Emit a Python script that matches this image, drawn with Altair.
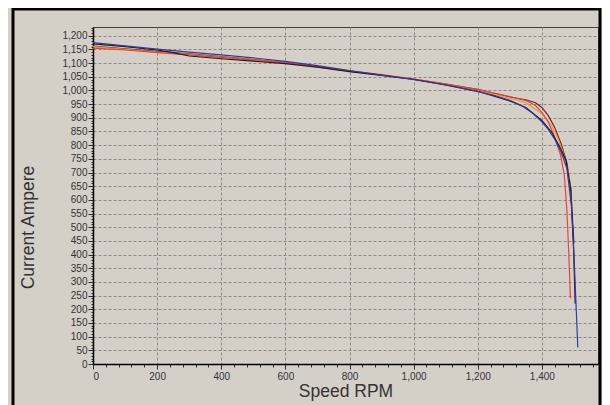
import altair as alt
import pandas as pd

# ---- data ----
series_names = ["Run A", "Run B", "Run C", "Run D", "Run E"]
series_colors = ["#7a2418", "#e8963e", "#e8453a", "#1c1c1c", "#3438a0"]

speed_a = [0, 100, 200, 300, 400, 600, 800, 1000, 1200, 1300, 1350, 1380, 1400, 1420, 1440, 1460, 1478, 1490, 1500]
cur_a = [1162, 1152, 1143, 1134, 1124, 1102, 1071, 1042, 1004, 976, 966, 955, 938, 908, 865, 805, 735, 640, 440]

speed_b = [0, 100, 200, 300, 400, 600, 800, 1000, 1200, 1300, 1350, 1400, 1430, 1450, 1468, 1485, 1495]
cur_b = [1160, 1150, 1140, 1132, 1122, 1101, 1071, 1041, 1001, 972, 955, 915, 872, 825, 765, 690, 560]

speed_c = [0, 100, 200, 300, 400, 500, 600, 700, 800, 900, 1000, 1100, 1200, 1300, 1350, 1380, 1400, 1420, 1440, 1458, 1470, 1478, 1484, 1489]
cur_c = [1155, 1148, 1138, 1130, 1121, 1112, 1102, 1088, 1072, 1058, 1042, 1024, 1003, 978, 963, 945, 920, 885, 830, 765, 690, 560, 400, 240]

speed_d = [0, 100, 200, 250, 300, 400, 500, 600, 700, 800, 900, 1000, 1100, 1200, 1300, 1350, 1400, 1430, 1455, 1475, 1490, 1498, 1504]
cur_d = [1170, 1160, 1148, 1138, 1126, 1116, 1107, 1098, 1085, 1069, 1055, 1040, 1020, 997, 962, 938, 890, 848, 795, 745, 640, 450, 220]

speed_e = [0, 100, 200, 300, 400, 500, 600, 700, 800, 900, 1000, 1100, 1200, 1250, 1300, 1340, 1370, 1400, 1420, 1440, 1460, 1478, 1492, 1500, 1506, 1512]
cur_e = [1175, 1163, 1151, 1140, 1130, 1119, 1106, 1091, 1073, 1056, 1040, 1020, 996, 982, 964, 942, 918, 885, 858, 822, 775, 715, 580, 400, 230, 60]

x_ticks = list(range(0, 1575, 40))
y_ticks = list(range(0, 1231, 10))

rows = []
for name, sp, cu in zip(series_names,
                        [speed_a, speed_b, speed_c, speed_d, speed_e],
                        [cur_a, cur_b, cur_c, cur_d, cur_e]):
    for i, (s, c) in enumerate(zip(sp, cu)):
        rows.append({"series": name, "speed": s, "current": c, "idx": i})
df = pd.DataFrame(rows)

BG = "#d4d0c8"
FONT = "Liberation Sans"

frame = alt.Chart(pd.DataFrame({"k": [0]})).mark_rect(
    fillOpacity=0, stroke="#000000", strokeWidth=3
).encode(
    x=alt.value(-80), x2=alt.value(507), y=alt.value(-18), y2=alt.value(430)
)

lines = alt.Chart(df).mark_line(strokeWidth=1.2, clip=True).encode(
    x=alt.X("speed:Q",
            scale=alt.Scale(domain=[0, 1575], nice=False, zero=False),
            axis=alt.Axis(
                title="Speed RPM", values=x_ticks, format=",d",
                labelExpr="datum.value % 200 === 0 ? datum.label : ''",
                labelOverlap=False,
                tickSize={"condition": {"test": "datum.value % 200 === 0", "value": 5}, "value": 3},
                gridOpacity={"condition": {"test": "datum.value % 200 === 0", "value": 1}, "value": 0},
                labelPadding=2, titlePadding=1,
            )),
    y=alt.Y("current:Q",
            scale=alt.Scale(domain=[0, 1232], nice=False, zero=False),
            axis=alt.Axis(
                title="Current Ampere", values=y_ticks, format=",d",
                labelExpr="datum.value % 50 === 0 ? datum.label : ''",
                labelOverlap=False,
                tickSize={"condition": {"test": "datum.value % 50 === 0", "value": 5}, "value": 2},
                gridOpacity={"condition": {"test": "datum.value % 50 === 0", "value": 1}, "value": 0},
                labelPadding=1, titlePadding=24, titleY=200,
            )),
    color=alt.Color("series:N", scale=alt.Scale(domain=series_names, range=series_colors), legend=None),
    order="idx:Q",
)

chart = alt.layer(frame, lines).properties(
    width=505, height=337,
    background=BG,
    padding={"left": 85, "top": 19, "right": 4, "bottom": 41},
    autosize=alt.AutoSizeParams(type="none"),
).configure_view(
    stroke="#404040", strokeWidth=1, fill=None
).configure_axis(
    domainColor="#000000", domainWidth=1.5,
    tickColor="#303030", tickWidth=1,
    gridColor="#8a8a8a", gridDash=[3, 2], gridWidth=1,
    labelFont=FONT, labelFontSize=10, labelColor="#333333",
    titleFont=FONT, titleFontSize=17.5, titleFontWeight="normal", titleColor="#333333",
)

chart.save("out.html", embed_options={"renderer": "svg", "actions": False})
